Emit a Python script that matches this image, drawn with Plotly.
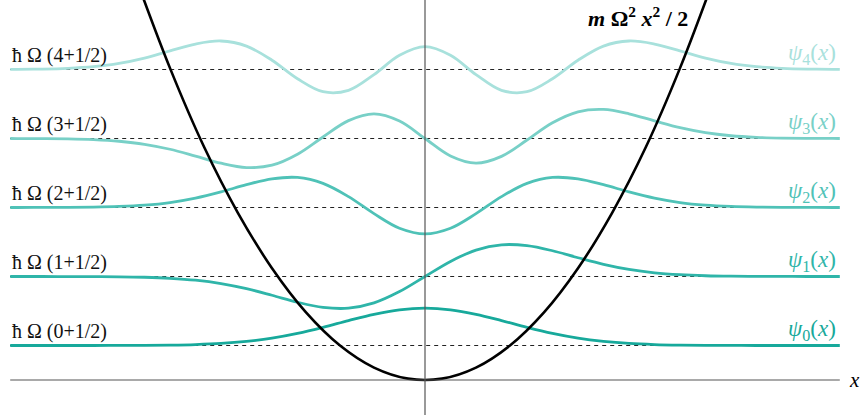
import plotly.graph_objects as go

# grid (in units of sqrt(hbar/(m Omega)))
x = [-4.88, -4.8, -4.5, -4.2, -3.9, -3.6, -3.3, -3.0, -2.7, -2.4, -2.1, -1.8, -1.5, -1.2, -0.9, -0.6, -0.3,
     0.0, 0.3, 0.6, 0.9, 1.2, 1.5, 1.8, 2.1, 2.4, 2.7, 3.0, 3.3, 3.6, 3.9, 4.2, 4.5, 4.8, 4.88]

psi0 = [0, 0, 0, 0, 0, 0.001, 0.002, 0.006, 0.014, 0.030, 0.060, 0.107, 0.176, 0.263, 0.361, 0.452, 0.517,
        0.541, 0.517, 0.452, 0.361, 0.263, 0.176, 0.107, 0.060, 0.030, 0.014, 0.006, 0.002, 0.001, 0, 0, 0, 0, 0]
psi1 = [0, 0, 0, -0.001, -0.002, -0.004, -0.011, -0.026, -0.054, -0.103, -0.177, -0.272, -0.373, -0.447, -0.459, -0.383, -0.219,
        0.0, 0.219, 0.383, 0.459, 0.447, 0.373, 0.272, 0.177, 0.103, 0.054, 0.026, 0.011, 0.004, 0.002, 0.001, 0, 0, 0]
psi2 = [0, 0, 0.001, 0.002, 0.006, 0.015, 0.034, 0.072, 0.136, 0.226, 0.330, 0.415, 0.435, 0.350, 0.158, -0.089, -0.300,
        -0.382, -0.300, -0.089, 0.158, 0.350, 0.435, 0.415, 0.330, 0.226, 0.136, 0.072, 0.034, 0.015, 0.006, 0.002, 0.001, 0, 0]
psi3 = [0, -0.001, -0.002, -0.006, -0.017, -0.040, -0.084, -0.156, -0.255, -0.358, -0.421, -0.387, -0.228, 0.022, 0.259, 0.357, 0.253,
        0.0, -0.253, -0.357, -0.259, -0.022, 0.228, 0.387, 0.421, 0.358, 0.255, 0.156, 0.084, 0.040, 0.017, 0.006, 0.002, 0.001, 0]
psi4 = [0.001, 0.002, 0.006, 0.017, 0.041, 0.088, 0.165, 0.269, 0.369, 0.413, 0.339, 0.134, -0.134, -0.322, -0.302, -0.074, 0.206,
        0.331, 0.206, -0.074, -0.302, -0.322, -0.134, 0.134, 0.339, 0.413, 0.369, 0.269, 0.165, 0.088, 0.041, 0.017, 0.006, 0.002, 0.001]

levels = [0.5, 1.5, 2.5, 3.5, 4.5]
level_labels = ["ħ Ω (0+1/2)", "ħ Ω (1+1/2)", "ħ Ω (2+1/2)", "ħ Ω (3+1/2)", "ħ Ω (4+1/2)"]
psi_labels = ["<i>ψ</i><sub>0</sub>(<i>x</i>)", "<i>ψ</i><sub>1</sub>(<i>x</i>)", "<i>ψ</i><sub>2</sub>(<i>x</i>)",
              "<i>ψ</i><sub>3</sub>(<i>x</i>)", "<i>ψ</i><sub>4</sub>(<i>x</i>)"]
colors = ["#17a99b", "#2fb5a9", "#4fc2b7", "#78d0c7", "#a8e1dc"]

# potential m Ω² x² / 2
xp = [-3.4, -3.0, -2.6, -2.2, -1.8, -1.4, -1.0, -0.6, -0.2, 0.2, 0.6, 1.0, 1.4, 1.8, 2.2, 2.6, 3.0, 3.4]
vp = [5.82, 4.52, 3.38, 2.42, 1.62, 0.98, 0.5, 0.18, 0.02, 0.02, 0.18, 0.5, 0.98, 1.62, 2.42, 3.38, 4.52, 5.82]

psis = [psi0, psi1, psi2, psi3, psi4]
XL, XR = -4.88, 4.88
FONT = "Liberation Serif"

fig = go.Figure()

for lev in levels:
    fig.add_trace(go.Scatter(x=[XL, XR], y=[lev, lev], mode="lines",
                             line=dict(color="#222", width=1, dash="4px,4px"),
                             hoverinfo="skip", showlegend=False))

for i in range(4, -1, -1):
    fig.add_trace(go.Scatter(x=x, y=[levels[i] + v for v in psis[i]], mode="lines",
                             line=dict(color=colors[i], width=2.8, shape="spline", smoothing=1.0),
                             showlegend=False))

fig.add_trace(go.Scatter(x=xp, y=vp, mode="lines",
                         line=dict(color="black", width=2.6, shape="spline", smoothing=1.0),
                         showlegend=False))

# axes
fig.add_trace(go.Scatter(x=[XL, XR], y=[0, 0], mode="lines",
                         line=dict(color="#555", width=1.2), showlegend=False, hoverinfo="skip"))
fig.add_trace(go.Scatter(x=[0, 0], y=[-0.507, 5.6], mode="lines",
                         line=dict(color="#555", width=1.2), showlegend=False, hoverinfo="skip"))

annotations = []
for i, lev in enumerate(levels):
    annotations.append(dict(x=XL, y=lev, text=level_labels[i], showarrow=False,
                            xanchor="left", yanchor="bottom", yshift=1,
                            font=dict(family=FONT, size=20, color="#111")))
    annotations.append(dict(x=XR - 0.02, y=lev, text=psi_labels[i], showarrow=False,
                            xanchor="right", yanchor="bottom", yshift=0,
                            font=dict(family=FONT, size=23, color=colors[i])))

annotations.append(dict(x=3.12, y=5.5, text="<b><i>m</i> Ω<sup>2</sup> <i>x</i><sup>2</sup> / 2</b>",
                        showarrow=False, xanchor="right", yanchor="top",
                        font=dict(family=FONT, size=22, color="black")))
annotations.append(dict(x=4.97, y=0, text="<i>x</i>", showarrow=False, xanchor="left", yanchor="middle",
                        font=dict(family=FONT, size=21, color="black")))

fig.update_layout(
    width=860, height=418,
    margin=dict(l=0, r=0, t=0, b=0),
    paper_bgcolor="white", plot_bgcolor="white",
    xaxis=dict(range=[-5.0, 5.1176], visible=False, fixedrange=True),
    yaxis=dict(range=[-0.5507, 5.5072], visible=False, fixedrange=True),
    annotations=annotations,
    showlegend=False,
)

fig.write_html("out.html", config={"displayModeBar": False},
               post_script="document.body.style.margin='0';document.body.style.overflow='hidden';")
